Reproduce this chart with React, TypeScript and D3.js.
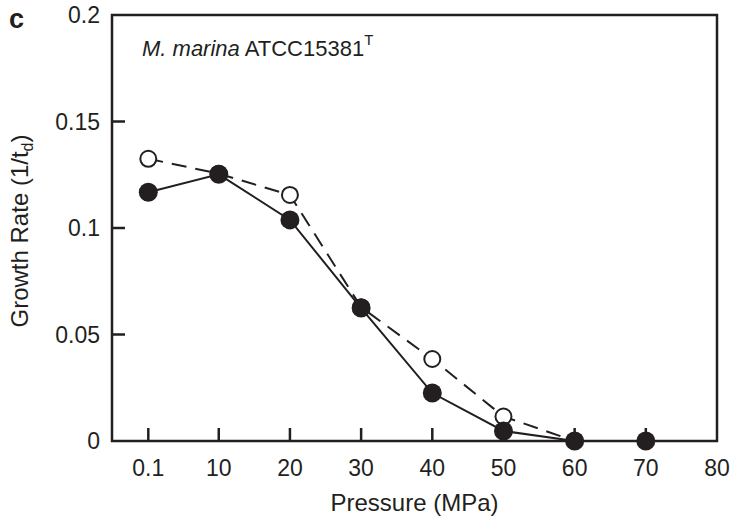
import React, { useEffect, useRef } from "react";
import * as d3 from "d3";

// pressure (MPa) and growth rate (1/td)
const pressures = [0.1, 10, 20, 30, 40, 50, 60, 70];
const filledRates = [0.1168, 0.1252, 0.1038, 0.0624, 0.0225, 0.0047, 0, 0];
const openPressures = [0.1, 10, 20, 30, 40, 50, 60];
const openRates = [0.1325, 0.1255, 0.1155, 0.0628, 0.0385, 0.0115, 0];
const xTicks = [0.1, 10, 20, 30, 40, 50, 60, 70, 80];
const xTickLabels = ["0.1", "10", "20", "30", "40", "50", "60", "70", "80"];
const yTicks = [0, 0.05, 0.1, 0.15, 0.2];
const yTickLabels = ["0", "0.05", "0.1", "0.15", "0.2"];

const ink = "#231f20";
const font = "'Liberation Sans', Arial, sans-serif";

function GrowthChart() {
    const ref = useRef<SVGSVGElement | null>(null);

    useEffect(() => {
        if (!ref.current) return;
        const width = 732;
        const height = 519;
        const marginLeft = 112;
        const marginRight = 15;
        const marginTop = 15;
        const marginBottom = 78;

        const svg = d3.select(ref.current);
        svg.selectAll("*").remove();

        const x = d3.scaleLinear().domain([-5, 80]).range([marginLeft, width - marginRight]);
        const y = d3.scaleLinear().domain([0, 0.2]).range([height - marginBottom, marginTop]);

        const tickLen = 13;

        // y axis ticks (inward) and labels
        const yAxis = svg.append("g");
        yTicks.forEach((t, i) => {
            if (t > 0 && t < 0.2) {
                yAxis.append("line")
                    .attr("x1", x(-5)).attr("x2", x(-5) + tickLen)
                    .attr("y1", y(t)).attr("y2", y(t))
                    .attr("stroke", ink).attr("stroke-width", 2.5);
            }
            yAxis.append("text")
                .attr("x", x(-5) - 12)
                .attr("y", y(t))
                .attr("dy", "0.36em")
                .attr("text-anchor", "end")
                .attr("font-family", font)
                .attr("font-size", 23)
                .attr("fill", ink)
                .text(yTickLabels[i]);
        });

        // x axis ticks (inward) and labels
        const xAxis = svg.append("g");
        xTicks.forEach((t, i) => {
            if (t < 80) {
                xAxis.append("line")
                    .attr("x1", x(t)).attr("x2", x(t))
                    .attr("y1", y(0)).attr("y2", y(0) - tickLen)
                    .attr("stroke", ink).attr("stroke-width", 2.5);
            }
            xAxis.append("text")
                .attr("x", x(t))
                .attr("y", y(0) + 35)
                .attr("text-anchor", "middle")
                .attr("font-family", font)
                .attr("font-size", 23)
                .attr("fill", ink)
                .text(xTickLabels[i]);
        });

        // frame
        svg.append("rect")
            .attr("x", x(-5)).attr("y", y(0.2))
            .attr("width", x(80) - x(-5)).attr("height", y(0) - y(0.2))
            .attr("fill", "none").attr("stroke", ink).attr("stroke-width", 2.5);

        const line = d3.line<[number, number]>().x((d) => x(d[0])).y((d) => y(d[1]));

        // open series (dashed)
        const openData = openPressures.map((p, i) => [p, openRates[i]] as [number, number]);
        svg.append("path")
            .attr("d", line(openData))
            .attr("fill", "none").attr("stroke", ink)
            .attr("stroke-width", 2).attr("stroke-dasharray", "15,9");
        svg.append("g").selectAll("circle")
            .data(openData)
            .join("circle")
            .attr("cx", (d) => x(d[0])).attr("cy", (d) => y(d[1]))
            .attr("r", 8)
            .attr("fill", "#fff").attr("stroke", ink).attr("stroke-width", 2);

        // filled series (solid)
        const filledData = pressures.map((p, i) => [p, filledRates[i]] as [number, number]);
        svg.append("path")
            .attr("d", line(filledData))
            .attr("fill", "none").attr("stroke", ink).attr("stroke-width", 2);
        svg.append("g").selectAll("circle")
            .data(filledData)
            .join("circle")
            .attr("cx", (d) => x(d[0])).attr("cy", (d) => y(d[1]))
            .attr("r", 9.5)
            .attr("fill", ink);

        // panel letter
        svg.append("text")
            .attr("x", 9).attr("y", 28)
            .attr("font-family", font).attr("font-size", 27).attr("font-weight", "bold")
            .attr("fill", ink).text("c");

        // strain annotation
        const ann = svg.append("text")
            .attr("x", 142).attr("y", 56)
            .attr("font-family", font).attr("font-size", 22).attr("fill", ink);
        ann.append("tspan").attr("font-style", "italic").text("M. marina");
        ann.append("tspan").text(" ATCC15381");
        ann.append("tspan").attr("font-size", 15).attr("dy", -11).text("T");

        // axis titles
        svg.append("text")
            .attr("x", (x(-5) + x(80)) / 2).attr("y", 511)
            .attr("text-anchor", "middle")
            .attr("font-family", font).attr("font-size", 24).attr("fill", ink)
            .text("Pressure (MPa)");

        const yl = svg.append("text")
            .attr("transform", `translate(28,${(y(0) + y(0.2)) / 2 + 3}) rotate(-90)`)
            .attr("text-anchor", "middle")
            .attr("font-family", font).attr("font-size", 24).attr("fill", ink);
        yl.append("tspan").text("Growth Rate (1/t");
        yl.append("tspan").attr("font-size", 16).attr("dy", 5).text("d");
        yl.append("tspan").attr("dy", -5).text(")");
    }, []);

    return (
        <svg
            ref={ref}
            width={732}
            height={519}
            viewBox="0 0 732 519"
            style={{ position: "absolute", left: 0, top: 0, background: "#fff" }}
        />
    );
}

export default function App() {
    return <GrowthChart />;
}
